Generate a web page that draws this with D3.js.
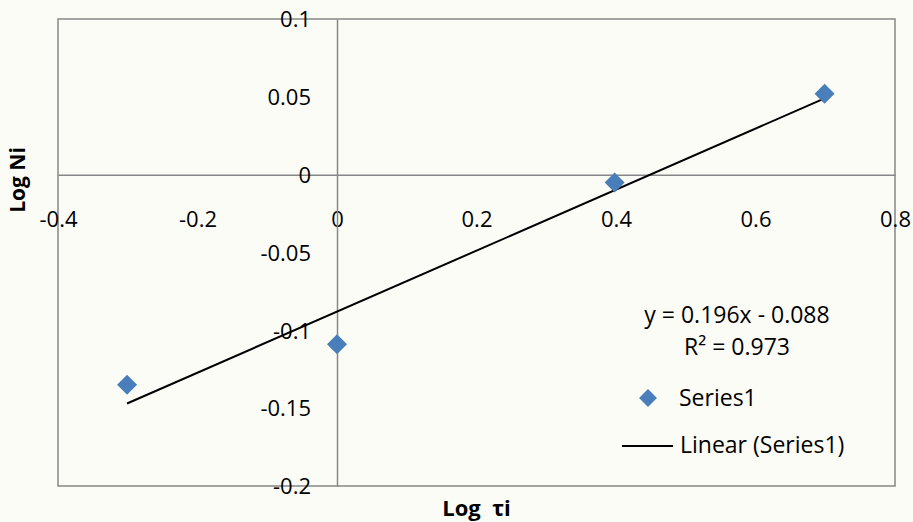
<!DOCTYPE html>
<html>
<head>
<meta charset="utf-8">
<script src="https://cdn.jsdelivr.net/npm/d3@7"></script>
<style>
  html, body { margin: 0; padding: 0; background: #fcfcf7; }
  svg { display: block; font-family: "Open Sans", "Noto Sans", sans-serif; }
</style>
</head>
<body>
<svg id="chart" width="913" height="522"></svg>
<script>
// Measured values: log of the interval vs log of the count
const logTau = [-0.301, 0, 0.398, 0.699];
const logN = [-0.135, -0.109, -0.005, 0.052];

// Fitted linear trend (as reported by the regression)
const slope = 0.196;
const intercept = -0.088;
const rSquared = 0.973;

const xTicks = [-0.4, -0.2, 0, 0.2, 0.4, 0.6, 0.8];
const yTicks = [0.1, 0.05, 0, -0.05, -0.1, -0.15, -0.2];
const xTickLabels = ["-0.4", "-0.2", "0", "0.2", "0.4", "0.6", "0.8"];
const yTickLabels = ["0.1", "0.05", "0", "-0.05", "-0.1", "-0.15", "-0.2"];

const seriesName = "Series1";
const trendName = "Linear (Series1)";
const xTitle = "Log  τi";
const yTitle = "Log Ni";

const svg = d3.select("#chart");
const plot = { left: 58, top: 19, right: 895, bottom: 486 };

const x = d3.scaleLinear().domain([-0.4, 0.8]).range([plot.left, plot.right]);
const y = d3.scaleLinear().domain([-0.2, 0.1]).range([plot.bottom, plot.top]);

const axisColor = "#868686";

// Plot area frame
svg.append("rect")
  .attr("x", plot.left).attr("y", plot.top)
  .attr("width", plot.right - plot.left).attr("height", plot.bottom - plot.top)
  .attr("fill", "none").attr("stroke", axisColor).attr("stroke-width", 1.5);

// Horizontal axis crossing at y = 0
const xAxis = d3.axisBottom(x).tickValues(xTicks).tickSize(0)
  .tickFormat((d, i) => xTickLabels[i]);
const gx = svg.append("g").attr("transform", `translate(0,${y(0)})`).call(xAxis);
gx.select(".domain").attr("stroke", axisColor).attr("stroke-width", 1.5);
gx.selectAll("text")
  .attr("font-size", 22).attr("fill", "#000").attr("dy", 0)
  .attr("y", 52).attr("font-family", "Open Sans");

// Vertical axis crossing at x = 0
const yAxis = d3.axisLeft(y).tickValues(yTicks).tickSize(0)
  .tickFormat((d, i) => yTickLabels[i]);
const gy = svg.append("g").attr("transform", `translate(${x(0)},0)`).call(yAxis);
gy.select(".domain").attr("stroke", axisColor).attr("stroke-width", 1.5);
gy.selectAll("text")
  .attr("font-size", 22).attr("fill", "#000")
  .attr("x", -26).attr("dy", "0.35em").attr("font-family", "Open Sans");

// Trend line over the data range
const xMin = d3.min(logTau), xMax = d3.max(logTau);
svg.append("line")
  .attr("x1", x(xMin)).attr("y1", y(slope * xMin + intercept))
  .attr("x2", x(xMax)).attr("y2", y(slope * xMax + intercept))
  .attr("stroke", "#000").attr("stroke-width", 2);

// Data markers (diamonds)
const diamond = d3.symbol().type(d3.symbolSquare).size(200);
svg.append("g").selectAll("path")
  .data(logTau.map((v, i) => [v, logN[i]]))
  .join("path")
  .attr("d", diamond)
  .attr("transform", d => `translate(${x(d[0])},${y(d[1])}) rotate(45)`)
  .attr("fill", "#4a7ebb");

// Trend equation
const eq = svg.append("g").attr("font-size", 23).attr("fill", "#000").attr("text-anchor", "middle");
eq.append("text").attr("x", 737).attr("y", 323)
  .text(`y = ${slope}x - ${Math.abs(intercept).toFixed(3)}`);
eq.append("text").attr("x", 737).attr("y", 355)
  .text(`R² = ${rSquared}`);

// Legend
const lg = svg.append("g").attr("font-size", 23).attr("fill", "#000");
lg.append("path").attr("d", d3.symbol().type(d3.symbolSquare).size(160))
  .attr("transform", "translate(648,398) rotate(45)").attr("fill", "#4a7ebb");
lg.append("text").attr("x", 679).attr("y", 406).text(seriesName);
lg.append("line").attr("x1", 622).attr("x2", 673).attr("y1", 446).attr("y2", 446)
  .attr("stroke", "#000").attr("stroke-width", 2);
lg.append("text").attr("x", 680).attr("y", 453).text(trendName);

// Axis titles
svg.append("text").attr("x", (plot.left + plot.right) / 2).attr("y", 516)
  .attr("text-anchor", "middle").attr("font-weight", "bold").attr("font-size", 22)
  .style("white-space", "pre")
  .text(xTitle);
svg.append("text").attr("transform", "translate(25,180) rotate(-90)")
  .attr("text-anchor", "middle").attr("font-weight", "bold").attr("font-size", 21)
  .text(yTitle);
</script>
</body>
</html>
